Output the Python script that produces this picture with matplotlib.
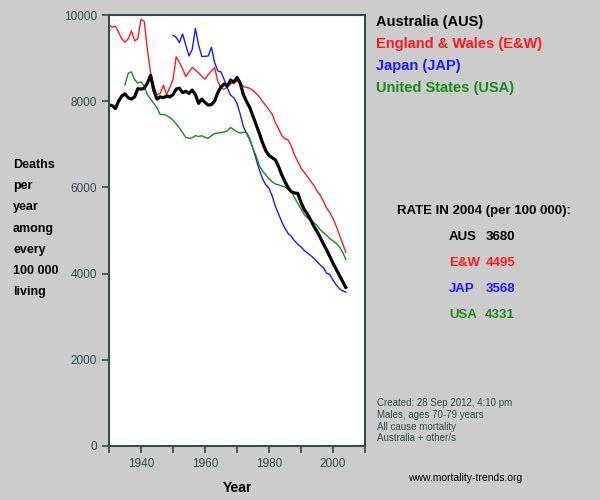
import matplotlib.pyplot as plt
import numpy as np

plt.rcParams['font.family'] = ['Liberation Sans', 'DejaVu Sans']

# male mortality, ages 70-79, deaths per 100 000
aus_years = np.arange(1930, 2005)
aus = [7910, 7900, 7830, 8000, 8120, 8170, 8080, 8050, 8100, 8290,
       8280, 8300, 8420, 8600, 8250, 8050, 8100, 8080, 8120, 8100,
       8150, 8280, 8300, 8200, 8230, 8180, 8260, 8150, 7950, 8050,
       7970, 7910, 7920, 8000, 8200, 8330, 8400, 8350, 8490, 8440,
       8550, 8420, 8150, 7990, 7850, 7650, 7450, 7250, 7030, 6850,
       6740, 6690, 6640, 6480, 6290, 6130, 5990, 5900, 5870, 5860,
       5650, 5490, 5380, 5250, 5100, 4980, 4840, 4690, 4550, 4400,
       4240, 4100, 3960, 3820, 3680]

ew_years = np.arange(1930, 2005)
ew = [9770, 9720, 9740, 9600, 9450, 9370, 9450, 9630, 9400, 9450,
      9900, 9850, 9200, 8650, 8350, 8150, 8180, 8370, 8150, 8320,
      8500, 9030, 8900, 8750, 8570, 8680, 8780, 8720, 8660, 8580,
      8510, 8620, 8700, 8780, 8460, 8300, 8280, 8330, 8400, 8440,
      8470, 8420, 8340, 8320, 8300, 8250, 8180, 8100, 7990, 7900,
      7800, 7700, 7500, 7360, 7200, 7130, 7100, 6950, 6750, 6600,
      6450, 6350, 6250, 6150, 6050, 5920, 5820, 5680, 5520, 5420,
      5280, 5100, 4900, 4700, 4495]

jap_years = np.arange(1950, 2005)
jap = [9530, 9480, 9360, 9560, 9300, 9050, 9200, 9690, 9300, 9040,
       9040, 9050, 9250, 8900, 8700, 8680, 8500, 8300, 8140, 8080,
       7950, 7700, 7410, 7250, 7100, 6900, 6650, 6400, 6200, 6060,
       5980, 5800, 5560, 5380, 5200, 5050, 4930, 4860, 4760, 4680,
       4620, 4540, 4480, 4420, 4360, 4280, 4200, 4140, 4010, 3980,
       3850, 3740, 3650, 3600, 3568]

usa_years = np.arange(1935, 2005)
usa = [8380, 8650, 8680, 8500, 8420,
       8450, 8350, 8150, 8050, 7950, 7850, 7690, 7690, 7670, 7620,
       7560, 7470, 7380, 7270, 7160, 7140, 7150, 7200, 7180, 7200,
       7160, 7140, 7200, 7250, 7260, 7270, 7290, 7310, 7390, 7340,
       7290, 7260, 7280, 7270, 7130, 6900, 6720, 6500, 6380, 6290,
       6200, 6130, 6080, 6060, 6030, 6010, 5950, 5900, 5760, 5630,
       5500, 5370, 5290, 5230, 5180, 5120, 5020, 4950, 4890, 4810,
       4760, 4700, 4620, 4500, 4331]

names = ['Australia (AUS)', 'England & Wales (E&W)', 'Japan (JAP)', 'United States (USA)']
codes = ['AUS', 'E&W', 'JAP', 'USA']
rates = [3680, 4495, 3568, 4331]
colors = ['black', '#ff1a1a', '#1a1aff', '#1a8a1a']

bg = '#cccccc'
axcol = '#2f4f4f'

fig = plt.figure(figsize=(6, 5), dpi=100, facecolor=bg)
ax = fig.add_axes([109/600, 1 - 446/500, 256/600, 431/500])
ax.set_facecolor('white')

ax.plot(ew_years, ew, color=colors[1], lw=1)
ax.plot(jap_years, jap, color=colors[2], lw=1)
ax.plot(usa_years, usa, color=colors[3], lw=1)
ax.plot(aus_years, aus, color=colors[0], lw=2.3)

ax.set_xlim(1930, 2010)
ax.set_ylim(0, 10000)
ax.set_xticks(np.arange(1930, 2011, 10))
ax.set_xticklabels(['' if y % 20 else str(y) for y in range(1930, 2011, 10)])
ax.set_yticks(np.arange(0, 10001, 2000))
ax.tick_params(colors=axcol, labelsize=8.5, length=5, width=1.2)
for s in ax.spines.values():
    s.set_color(axcol)
    s.set_linewidth(1.5)

ax.set_xlabel('Year', fontsize=10, fontweight='bold', labelpad=8)

ylab = ['Deaths', 'per', 'year', 'among', 'every', '100 000', 'living']
for i, t in enumerate(ylab):
    fig.text(13/600, 1 - (165 + i*21.2)/500, t, fontsize=9, fontweight='bold', va='center')

for i, n in enumerate(names):
    fig.text(376/600, 1 - (22 + i*22)/500, n, color=colors[i], fontsize=10.5,
             fontweight='bold', va='center')

fig.text(397/600, 1 - 211/500, 'RATE IN 2004 (per 100 000):', fontsize=9.5,
         fontweight='bold', va='center')
for i in range(4):
    yy = 1 - (237 + i*26)/500
    fig.text(449/600, yy, codes[i], color=colors[i], fontsize=9.5, fontweight='bold', va='center')
    fig.text(515/600, yy, str(rates[i]), color=colors[i], fontsize=9.5,
             fontweight='bold', va='center', ha='right')

notes = ['Created: 28 Sep 2012, 4:10 pm', 'Males, ages 70-79 years',
         'All cause mortality', 'Australia + other/s']
for i, t in enumerate(notes):
    fig.text(377/600, 1 - (403 + i*11.8)/500, t, color=axcol, fontsize=7, va='center')

fig.text(408/600, 1 - 478/500, 'www.mortality-trends.org', fontsize=7.5, va='center')

fig.savefig('out.png', dpi=100, facecolor=bg)
